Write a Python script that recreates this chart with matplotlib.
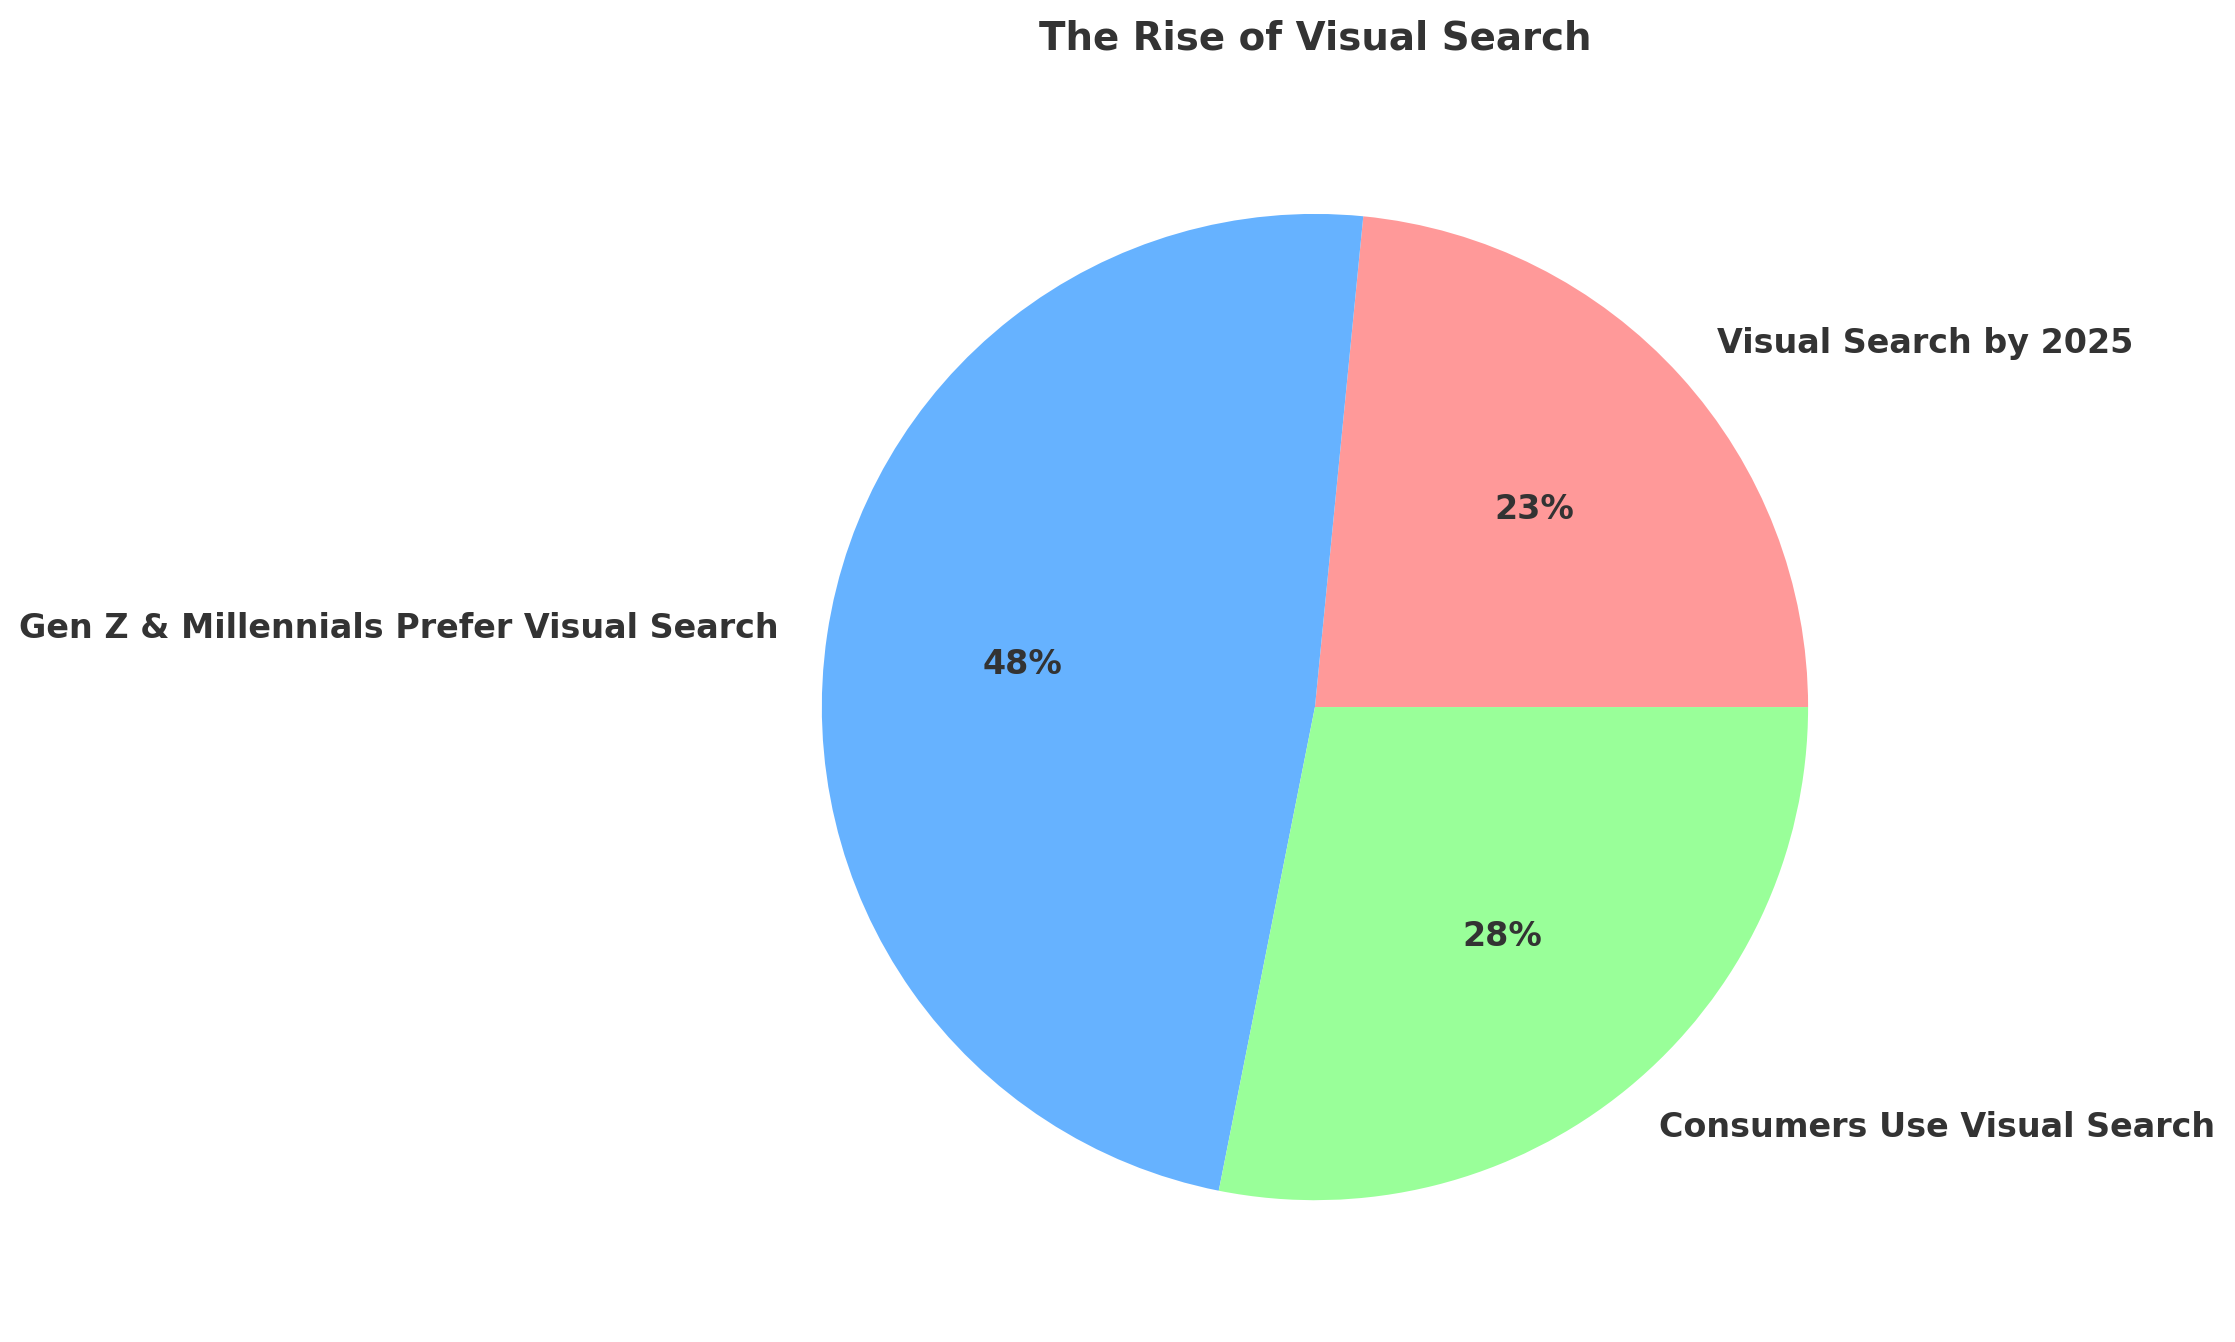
import matplotlib.pyplot as plt

labels = ['Visual Search by 2025', 'Gen Z & Millennials Prefer Visual Search', 'Consumers Use Visual Search']
values = [30, 62, 36]
colors = ['#FF9999', '#66B2FF', '#99FF99']

plt.rcParams['text.color'] = '#333333'

fig = plt.figure(figsize=(14.9, 8.953), dpi=150)
ax = fig.add_axes([0.3125, 0.0138, 0.5517, 0.918])

wedges, texts, autotexts = ax.pie(values, labels=labels, colors=colors, autopct='%1.0f%%',
                                  startangle=0, textprops={'fontsize': 16, 'fontweight': 'bold', 'color': '#333333'})

ax.set_title('The Rise of Visual Search', fontsize=18.6, fontweight='bold', color='#333333', pad=20)

fig.savefig('out.png', dpi=150)
